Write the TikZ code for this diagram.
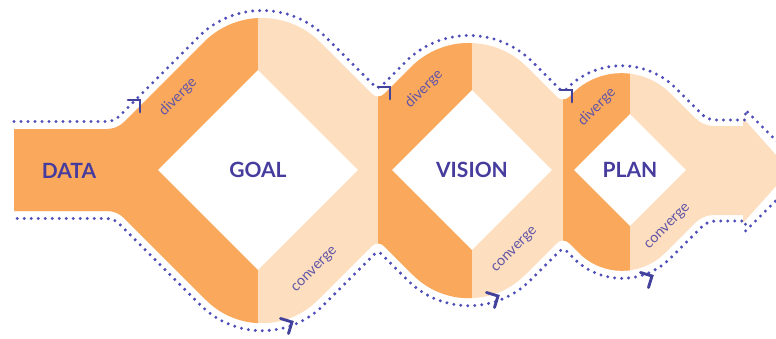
\documentclass[tikz,border=0pt]{standalone}
\usepackage{fontspec}
\setmainfont{Lato}
\usetikzlibrary{shapes.geometric}
\definecolor{darkor}{RGB}{250,168,92}
\definecolor{lightor}{RGB}{253,222,191}
\definecolor{labelc}{RGB}{70,60,158}
\definecolor{smallc}{RGB}{98,86,168}
\definecolor{dotc}{RGB}{78,78,184}
% corner: Vx Vy ax ay bx by k
\newcommand{\rc}[7]{-- ({#1-(#3)},{#2-(#4)}) .. controls ({#1-#7*(#3)},{#2-#7*(#4)}) and ({#1+#7*(#5)},{#2+#7*(#6)}) .. ({#1+(#5)},{#2+(#6)})}
\newcommand{\myoutline}{(14,129) \rc{117}{129}{10}{0}{7}{-7}{0.36} \rc{262}{-16}{58}{-58}{58}{58}{0.4477} \rc{378}{100}{6}{6}{6}{-6}{0.4477} \rc{469}{9}{58}{-58}{58}{58}{0.4477} \rc{563}{103}{6}{6}{6}{-6}{0.4477} \rc{621.5}{44.5}{49}{-49}{49}{49}{0.4477} \rc{703}{126}{8}{8}{11}{0}{0.36} -- (743,126) -- (743,118) -- (790,170.5) -- (743,223) -- (743,215) \rc{703}{215}{-11}{0}{-8}{8}{0.36} \rc{622}{296}{-43}{43}{-43}{-43}{0.4477} \rc{563}{237}{-6}{-6}{-6}{6}{0.4477} \rc{469}{331}{-56}{56}{-56}{-56}{0.4477} \rc{378}{240}{-6}{-6}{-6}{6}{0.4477} \rc{262}{356}{-56}{56}{-56}{-56}{0.4477} \rc{117}{211}{-7}{-7}{-10}{0}{0.36} -- (14,211) -- cycle}
\newcommand{\mydotted}{(14,121.5) \rc{113.9}{121.5}{7}{0}{5}{-5}{0.36} \rc{262}{-26.6}{63.3}{-63.3}{63.3}{63.3}{0.4477} \rc{378}{89.4}{3}{3}{3}{-3}{0.4477} \rc{469}{-1.6}{63.3}{-63.3}{63.3}{63.3}{0.4477} \rc{563}{92.4}{3}{3}{3}{-3}{0.4477} \rc{621.5}{33.9}{54.3}{-54.3}{54.3}{54.3}{0.4477} \rc{707.6}{120}{5.7}{5.7}{8}{0}{0.36} -- (745.5,120) -- (745.5,110) -- (806,170.5) -- (745.5,231) -- (745.5,221) \rc{707.6}{221}{-8}{0}{-5.7}{5.7}{0.36} \rc{622}{306.6}{-48.3}{48.3}{-48.3}{-48.3}{0.4477} \rc{563}{247.6}{-3}{-3}{-3}{3}{0.4477} \rc{469}{341.6}{-61.3}{61.3}{-61.3}{-61.3}{0.4477} \rc{378}{250.6}{-3}{-3}{-3}{3}{0.4477} \rc{262}{366.6}{-61.3}{61.3}{-61.3}{-61.3}{0.4477} \rc{113.9}{218.5}{-5}{-5}{-7}{0}{0.36} -- (14,218.5)}
\tikzset{
  diam/.style={diamond, aspect=1, fill=white, inner sep=0pt, text=labelc,
    font=\fontsize{21}{24}\selectfont\bfseries},
  biglabel/.style={text=labelc, font=\fontsize{21}{24}\selectfont\bfseries, inner sep=0pt},
  smalllabel/.style={text=smallc, font=\fontsize{14.5}{16}\selectfont, inner sep=0pt, rotate=45},
  dotline/.style={draw=dotc, line width=3.3pt, line cap=round, dash pattern=on 0pt off 7pt},
  chevline/.style={draw=dotc!85!black, line width=2.9pt, line cap=round, line join=miter},
  chev/.pic={\draw[chevline] (-8.5pt,8.5pt) -- (0,0) -- (-8.5pt,-8.5pt);}
}
\begin{document}
\begin{tikzpicture}[x=1pt, y=-1pt]
\useasboundingbox (0,0) rectangle (776,338);
\clip (0,0) rectangle (776,338);
\fill[lightor] \myoutline;
\begin{scope}
  \clip \myoutline;
  \fill[darkor] (0,-60) rectangle (258,420);
  \fill[darkor] (378,-60) rectangle (472,420);
  \fill[darkor] (563,-60) rectangle (630,420);
\end{scope}
\node[diam, minimum size=200pt] (goal) at (258,170) {GOAL};
\node[diam, minimum size=160pt] (vision) at (472,170) {VISION};
\node[diam, minimum size=112pt] (plan) at (630,170) {PLAN};
\node[biglabel] (data) at (69,171) {DATA};
\node[smalllabel] (div1) at (178,97) {diverge};
\node[smalllabel] (div2) at (424,89) {diverge};
\node[smalllabel] (div3) at (597,107) {diverge};
\node[smalllabel] (con1) at (315,270) {converge};
\node[smalllabel] (con2) at (515,250) {converge};
\node[smalllabel] (con3) at (668,227) {converge};
\path[dotline] \mydotted;
\pic[rotate=45] at (140,100) {chev};
\pic[rotate=45] at (390,87) {chev};
\pic[rotate=45] at (572,90) {chev};
\pic[rotate=28] at (292,322) {chev};
\pic[rotate=28] at (498,296) {chev};
\pic[rotate=28] at (652,276) {chev};
\end{tikzpicture}
\end{document}
